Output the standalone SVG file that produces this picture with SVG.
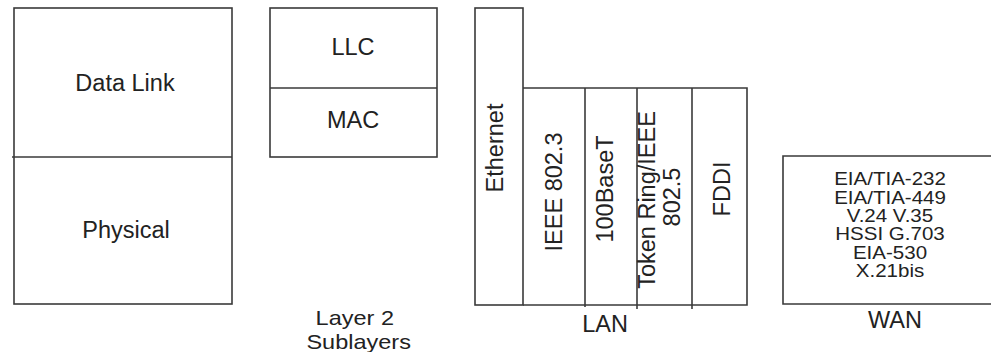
<svg xmlns="http://www.w3.org/2000/svg" width="991" height="352" viewBox="0 0 991 352">
<style>
.ln{fill:none;stroke:#3a3a3a;stroke-width:1.6}
text{font-family:"Liberation Sans",Arial,sans-serif;fill:#222;text-anchor:middle}
.b{font-size:23.5px}
.s{font-size:21px}
.w{font-size:18px}
</style>
<rect width="991" height="352" fill="#fff"/>
<g id="osi">
<rect class="ln" x="14" y="8" width="218" height="296"/>
<line class="ln" x1="12" y1="157" x2="232" y2="157"/>
<text class="b" x="125" y="91">Data Link</text>
<text class="b" x="126" y="238">Physical</text>
</g>
<g id="sublayers">
<rect class="ln" x="270" y="8" width="167" height="149"/>
<line class="ln" x1="270" y1="88" x2="437" y2="88"/>
<text class="b" x="353" y="55">LLC</text>
<text class="b" x="353" y="128">MAC</text>
<g transform="translate(357,0) scale(1.12,1)">
<text class="s" x="-2" y="325">Layer 2</text>
<text class="s" x="1.5" y="349">Sublayers</text>
</g>
</g>
<g id="lan">
<rect class="ln" x="475" y="8" width="48" height="297"/>
<polyline class="ln" points="523,88 747,88 747,305 523,305"/>
<line class="ln" x1="585" y1="88" x2="585" y2="307"/>
<line class="ln" x1="637" y1="88" x2="637" y2="309"/>
<line class="ln" x1="692" y1="88" x2="692" y2="309"/>
<text class="b" transform="translate(503,148) rotate(-90)">Ethernet</text>
<text class="b" transform="translate(562,192) rotate(-90)">IEEE 802.3</text>
<text class="b" transform="translate(613,189) rotate(-90)">100BaseT</text>
<text class="b" transform="translate(655,200) rotate(-90)">Token Ring/IEEE</text>
<text class="b" transform="translate(680,197) rotate(-90)">802.5</text>
<text class="b" transform="translate(730,189) rotate(-90)">FDDI</text>
<text class="b" x="605" y="332">LAN</text>
</g>
<g id="wan">
<polyline class="ln" points="995,156 783,156 783,304 995,304"/>
<g transform="translate(890,0) scale(1.14,1)">
<text class="w" x="0" y="185.5">EIA/TIA-232</text>
<text class="w" x="0" y="204">EIA/TIA-449</text>
<text class="w" x="0" y="222">V.24 V.35</text>
<text class="w" x="0" y="240.5">HSSI G.703</text>
<text class="w" x="0" y="259">EIA-530</text>
<text class="w" x="0" y="277">X.21bis</text>
</g>
<text class="b" x="895" y="328">WAN</text>
</g>
<g id="connectors"></g>
</svg>
